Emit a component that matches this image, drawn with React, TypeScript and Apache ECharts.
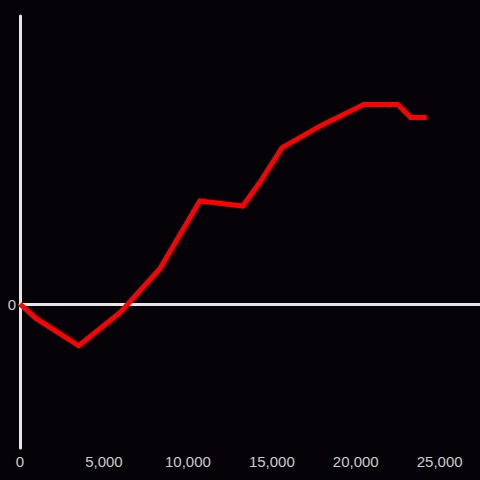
import React, { useEffect, useRef } from "react";
import * as echarts from "echarts";

const xValues = [0, 950, 3500, 6000, 8330, 10710, 13270, 14290, 15600, 17860, 20480, 22500, 23270, 24230];
const yValues = [0, -0.1, -0.29, -0.055, 0.245, 0.715, 0.68, 0.845, 1.085, 1.235, 1.385, 1.385, 1.295, 1.295];
const xTicks = [0, 5000, 10000, 15000, 20000, 25000];

export default function App() {
  const ref = useRef<HTMLDivElement>(null);
  useEffect(() => {
    document.body.style.margin = "0";
    const chart = echarts.init(ref.current!, null, { renderer: "svg" });
    const data = xValues.map((x, i) => [x, yValues[i]]);
    chart.setOption({
      animation: false,
      backgroundColor: "#050307",
      grid: { left: 20, right: 0, top: 16, bottom: 32, containLabel: false },
      xAxis: [
        {
          type: "value",
          min: 0,
          max: 27400,
          interval: 5000,
          position: "bottom",
          axisLine: { show: false, onZero: false },
          axisTick: { show: false },
          splitLine: { show: false },
          axisLabel: {
            color: "#cccccc",
            fontSize: 15,
            fontFamily: "Liberation Sans, Arial, sans-serif",
            margin: 6,
            showMaxLabel: false,
            formatter: (v: number) => (xTicks.includes(v) ? v.toLocaleString("en-US") : ""),
          },
        },
        {
          type: "value",
          min: 0,
          max: 27400,
          interval: 5000,
          position: "bottom",
          axisLine: { show: true, onZero: true, lineStyle: { color: "#e6e6e6", width: 3 } },
          axisTick: { show: false },
          splitLine: { show: false },
          axisLabel: { show: false },
        },
      ],
      yAxis: {
        type: "value",
        min: -1,
        max: 2,
        interval: 1,
        axisLine: { show: true, onZero: false, lineStyle: { color: "#e6e6e6", width: 3 } },
        axisTick: { show: false },
        splitLine: { show: false },
        axisLabel: {
          color: "#cccccc",
          fontSize: 15,
          fontFamily: "Liberation Sans, Arial, sans-serif",
          margin: 4,
          formatter: (v: number) => (v === 0 ? "0" : ""),
        },
      },
      series: [
        {
          type: "line",
          xAxisIndex: 0,
          data,
          showSymbol: false,
          symbol: "none",
          lineStyle: { color: "#ff0000", width: 5, join: "miter", cap: "butt" },
          z: 5,
        },
      ],
    });
    return () => chart.dispose();
  }, []);
  return <div ref={ref} style={{ width: 480, height: 480 }} />;
}
